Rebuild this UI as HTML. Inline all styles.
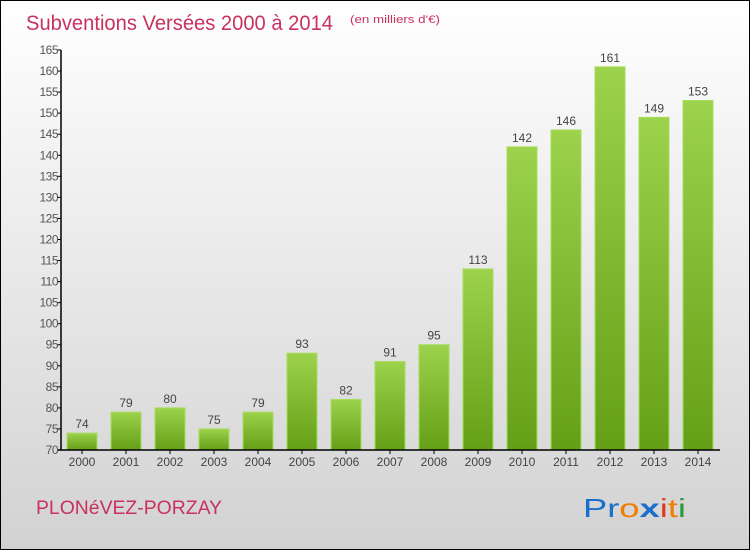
<!DOCTYPE html>
<html><head><meta charset="utf-8"><style>
body{margin:0;}
#c{position:relative;width:750px;height:550px;box-sizing:border-box;border:1px solid #000;background:linear-gradient(#ffffff,#d2d2d2);font-family:"Liberation Sans",sans-serif;overflow:hidden;}
</style></head><body>
<div id="c">
<svg width="748" height="548" viewBox="1 1 748 548" xmlns="http://www.w3.org/2000/svg">
<defs><linearGradient id="g" x1="0" y1="0" x2="0" y2="1"><stop offset="0" stop-color="#9cd24c"/><stop offset="1" stop-color="#64a016"/></linearGradient></defs>
<text x="26" y="30" font-size="21" fill="#c8325f" textLength="307" lengthAdjust="spacingAndGlyphs">Subventions Versées 2000 à 2014</text>
<text x="350" y="23" font-size="11" fill="#c8325f" textLength="90" lengthAdjust="spacingAndGlyphs">(en milliers d'€)</text>
<text x="36" y="514" font-size="19" fill="#c8325f" textLength="186" lengthAdjust="spacingAndGlyphs">PLONéVEZ-PORZAY</text>
<g font-size="26" font-family="'Liberation Sans',sans-serif">
<text x="583" y="517" textLength="103" lengthAdjust="spacingAndGlyphs"><tspan fill="#1a6fcc">Pr</tspan><tspan fill="#f07d00">o</tspan><tspan fill="#1a6fcc" font-weight="bold">x</tspan><tspan fill="#e03a1e">i</tspan><tspan fill="#f07d00">t</tspan><tspan fill="#2a9a3a">i</tspan></text>
</g>
<g id="bars"></g><g id="axes"></g>
</svg></div>
<script>
const years=["2000","2001","2002","2003","2004","2005","2006","2007","2008","2009","2010","2011","2012","2013","2014"];
const values=[74,79,80,75,79,93,82,91,95,113,142,146,161,149,153];
const yTicks=[70,75,80,85,90,95,100,105,110,115,120,125,130,135,140,145,150,155,160,165];
const NS="http://www.w3.org/2000/svg";
const y0=450,yMin=70,pxPer=400/95;
function yS(v){return y0-(v-yMin)*pxPer;}
function xS(i){return 82+i*44;}
const bars=document.getElementById('bars'),axes=document.getElementById('axes');
function mk(t,a,p){const e=document.createElementNS(NS,t);for(const k in a)e.setAttribute(k,a[k]);p.appendChild(e);return e;}
values.forEach((v,i)=>{
 const r=mk('rect',{x:xS(i)-15,y:yS(v),width:30,height:y0-yS(v),fill:'url(#g)',stroke:'#a8dc5c','stroke-width':1},bars);
 
 
 const t=mk('text',{x:xS(i),y:yS(v)-5,'text-anchor':'middle','font-size':12,fill:'#444'},bars);t.textContent=v;
 
 
 const xl=mk('text',{x:xS(i),y:466,'text-anchor':'middle','font-size':12,fill:'#444'},axes);xl.textContent=years[i];
 
 
 mk('line',{x1:xS(i),x2:xS(i),y1:y0,y2:y0+4,stroke:'#000'},axes);
});
const ya=mk('line',{x1:61,x2:61,y1:yS(165),y2:y0,stroke:'#000','stroke-width':1.5},axes);


const xa=mk('line',{x1:57,x2:720,y1:y0,y2:y0,stroke:'#000','stroke-width':1.5},axes);


yTicks.forEach(v=>{
 mk('line',{x1:57,x2:61,y1:yS(v),y2:yS(v),stroke:'#000'},axes);
 const t=mk('text',{x:58,y:yS(v)+4,'text-anchor':'end','font-size':12,fill:'#555','letter-spacing':'-0.5'},axes);t.textContent=v;
 
 
});
</script></body></html>
